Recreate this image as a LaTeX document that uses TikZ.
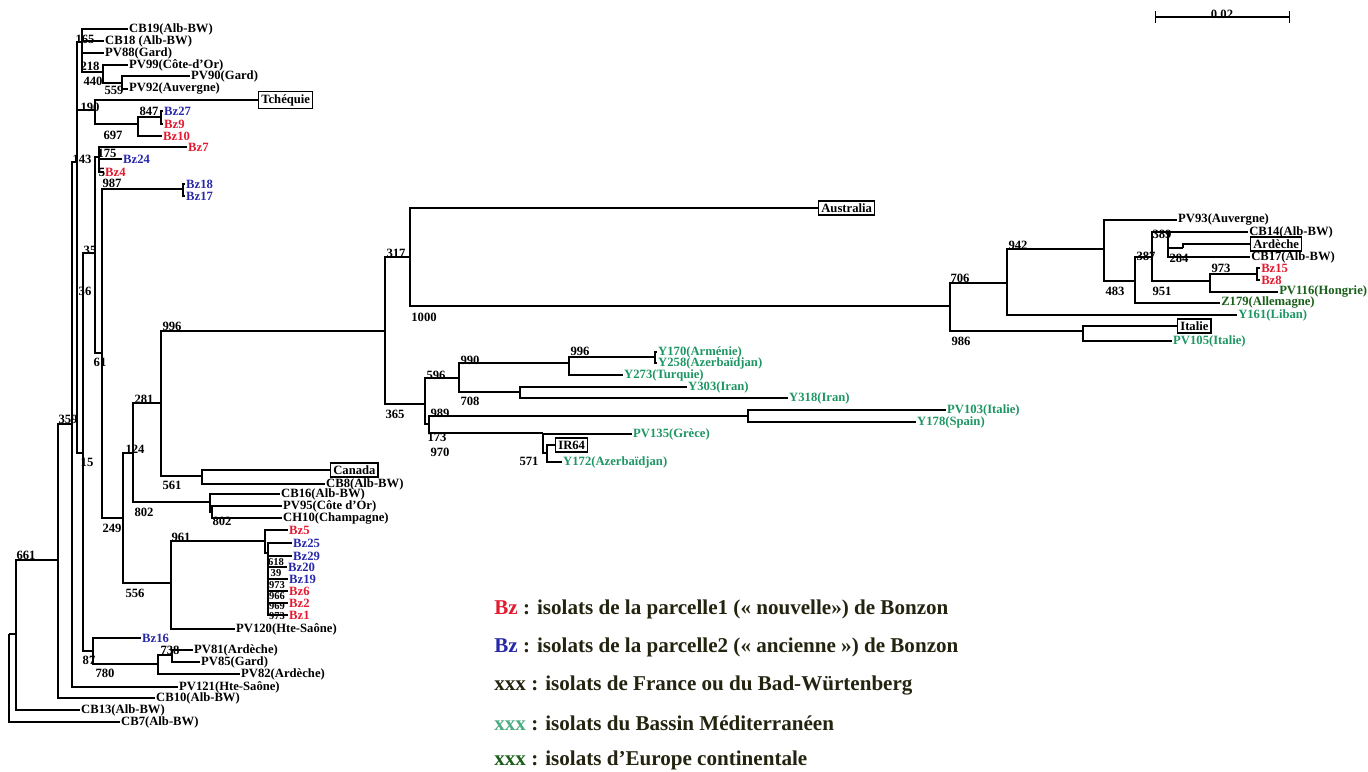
\documentclass[tikz,border=0pt]{standalone}
\usepackage{fontspec}
\setmainfont{Liberation Serif}

\definecolor{bzred}{RGB}{228,26,48}
\definecolor{bzblue}{RGB}{40,40,170}
\definecolor{medgreen}{RGB}{30,150,100}
\definecolor{eurgreen}{RGB}{25,95,25}
\definecolor{legtext}{RGB}{35,35,15}

\begin{document}
\begin{tikzpicture}[x=0.02cm,y=-0.02cm,
    branch/.style={line width=0.9pt},
    leaf/.style={anchor=west,inner sep=0.5pt,font=\bfseries\fontsize{7.2}{8}\selectfont},
    boxed/.style={leaf,draw,line width=0.8pt,inner sep=1.5pt},
    boot/.style={inner sep=0pt,font=\bfseries\fontsize{7.2}{8}\selectfont},
    comb/.style={boot,font=\bfseries\fontsize{6}{6}\selectfont},
    legend/.style={anchor=west,inner sep=0pt,text=legtext,font=\bfseries\fontsize{12}{14}\selectfont}]
  \useasboundingbox (0,0) rectangle (1368,771);
  \def\R#1{\textcolor{bzred}{#1}}
  \def\B#1{\textcolor{bzblue}{#1}}
  \def\M#1{\textcolor{medgreen}{#1}}
  \def\E#1{\textcolor{eurgreen}{#1}}

  % the leaves first, upper left part
  \node [leaf] (CB19) at (128,29) {CB19(Alb-BW)};
  \node [leaf] (CB18) at (104,41) {CB18 (Alb-BW)};
  \node [leaf] (PV88) at (104,53) {PV88(Gard)};
  \node [leaf] (PV99) at (128,65) {PV99(Côte-d'Or)};
  \node [leaf] (PV90) at (190,76) {PV90(Gard)};
  \node [leaf] (PV92) at (128,89) {PV92(Auvergne)};
  \node [boxed] (Tch) at (258,100) {Tchéquie};
  \node [leaf] (Bz27) at (163,111) {\B{Bz27}};
  \node [leaf] (Bz9) at (163,124) {\R{Bz9}};
  \node [leaf] (Bz10) at (162,136) {\R{Bz10}};
  \node [leaf] (Bz7) at (187,147) {\R{Bz7}};
  \node [leaf] (Bz24) at (122,159) {\B{Bz24}};
  \node [leaf] (Bz4) at (104,172) {\R{Bz4}};
  \node [leaf] (Bz18) at (185,184) {\B{Bz18}};
  \node [leaf] (Bz17) at (185,196) {\B{Bz17}};

  % middle and lower left part
  \node [boxed] (Can) at (330,470) {Canada};
  \node [leaf] (CB8) at (325,484) {CB8(Alb-BW)};
  \node [leaf] (CB16) at (280,494) {CB16(Alb-BW)};
  \node [leaf] (PV95) at (282,506) {PV95(Côte d'Or)};
  \node [leaf] (CH10) at (282,518) {CH10(Champagne)};
  \node [leaf] (Bz5) at (288,530) {\R{Bz5}};
  \node [leaf] (Bz25) at (292,543) {\B{Bz25}};
  \node [leaf] (Bz29) at (292,556) {\B{Bz29}};
  \node [leaf] (Bz20) at (287,567) {\B{Bz20}};
  \node [leaf] (Bz19) at (288,579) {\B{Bz19}};
  \node [leaf] (Bz6) at (288,591) {\R{Bz6}};
  \node [leaf] (Bz2) at (288,603) {\R{Bz2}};
  \node [leaf] (Bz1) at (288,615) {\R{Bz1}};
  \node [leaf] (PV120) at (235,629) {PV120(Hte-Saône)};
  \node [leaf] (Bz16) at (141,638) {\B{Bz16}};
  \node [leaf] (PV81) at (193,650) {PV81(Ardèche)};
  \node [leaf] (PV85) at (200,662) {PV85(Gard)};
  \node [leaf] (PV82) at (240,674) {PV82(Ardèche)};
  \node [leaf] (PV121) at (178,687) {PV121(Hte-Saône)};
  \node [leaf] (CB10) at (155,698) {CB10(Alb-BW)};
  \node [leaf] (CB13) at (80,710) {CB13(Alb-BW)};
  \node [leaf] (CB7) at (120,722) {CB7(Alb-BW)};

  % right part
  \node [boxed] (Aus) at (818,208) {Australia};
  \node [leaf] (PV93) at (1177,220) {PV93(Auvergne)};
  \node [leaf] (CB14) at (1248,232) {CB14(Alb-BW)};
  \node [boxed] (Ard) at (1250,244) {Ardèche};
  \node [leaf] (CB17) at (1250,257) {CB17(Alb-BW)};
  \node [leaf] (Bz15) at (1260,268) {\R{Bz15}};
  \node [leaf] (Bz8) at (1260,280) {\R{Bz8}};
  \node [leaf] (PV116) at (1278,292) {\E{PV116(Hongrie)}};
  \node [leaf] (Z179) at (1220,303) {\E{Z179(Allemagne)}};
  \node [leaf] (Y161) at (1237,315) {\M{Y161(Liban)}};
  \node [boxed] (Ita) at (1177,326) {Italie};
  \node [leaf] (PV105) at (1172,341) {\M{PV105(Italie)}};
  \node [leaf] (Y170) at (657,352) {\M{Y170(Arménie)}};
  \node [leaf] (Y258) at (657,363) {\M{Y258(Azerbaïdjan)}};
  \node [leaf] (Y273) at (623,375) {\M{Y273(Turquie)}};
  \node [leaf] (Y303) at (687,387) {\M{Y303(Iran)}};
  \node [leaf] (Y318) at (788,398) {\M{Y318(Iran)}};
  \node [leaf] (PV103) at (946,410) {\M{PV103(Italie)}};
  \node [leaf] (Y178) at (916,422) {\M{Y178(Spain)}};
  \node [leaf] (PV135) at (632,434) {\M{PV135(Grèce)}};
  \node [boxed] (IR64) at (555,445) {IR64};
  \node [leaf] (Y172) at (562,462) {\M{Y172(Azerbaïdjan)}};

  % inner nodes of the tree
  \coordinate (r) at (9,634);
  \coordinate (n661) at (16,634);
  \coordinate (n359) at (58,560);
  \coordinate (n143) at (72,424);
  \coordinate (nB) at (77,162);
  \coordinate (n218) at (82,42);
  \coordinate (n440) at (103,72);
  \coordinate (n559) at (122,83);
  \coordinate (n190) at (95,110);
  \coordinate (n847) at (138,124);
  \coordinate (nBz27) at (161,117);
  \coordinate (n83) at (83,453);
  \coordinate (n35) at (95,253);
  \coordinate (n175) at (99,157);
  \coordinate (n61) at (102,353);
  \coordinate (n987) at (183,189);
  \coordinate (n124) at (123,518);
  \coordinate (n281) at (133,453);
  \coordinate (n996) at (161,403);
  \coordinate (n561) at (202,476);
  \coordinate (n802) at (210,502);
  \coordinate (n802b) at (212,512);
  \coordinate (n556) at (171,583);
  \coordinate (n961) at (265,541);
  \coordinate (n618) at (268,553);
  \coordinate (n87) at (93,651);
  \coordinate (n780) at (158,664);
  \coordinate (n738) at (172,655);
  \coordinate (n385) at (385,331);
  \coordinate (n317) at (410,257);
  \coordinate (n706) at (950,306);
  \coordinate (n942) at (1007,283);
  \coordinate (n483) at (1104,249);
  \coordinate (n387) at (1135,281);
  \coordinate (n951) at (1152,257);
  \coordinate (n389) at (1168,232);
  \coordinate (n284) at (1183,248);
  \coordinate (n973) at (1210,281);
  \coordinate (nBz15) at (1257,274);
  \coordinate (n986) at (1083,331);
  \coordinate (n365) at (425,404);
  \coordinate (n596) at (459,378);
  \coordinate (n990) at (569,363);
  \coordinate (nY170) at (655,357);
  \coordinate (n708) at (520,392);
  \coordinate (n173) at (429,424);
  \coordinate (n989) at (748,416);
  \coordinate (n970) at (543,433);
  \coordinate (n571) at (547,453);

  % draw the branches, parent by parent
  \foreach \p/\c in {r/n661, r/CB7.west, n661/n359, n661/CB13.west,
      n359/n143, n359/CB10.west, n143/nB, n143/PV121.west,
      nB/n218, nB/n190, nB/n83,
      n218/CB19.west, n218/CB18.west, n218/PV88.west, n218/n440,
      n440/PV99.west, n440/n559, n559/PV90.west, n559/PV92.west,
      n190/Tch.west, n190/n847, n847/nBz27, n847/Bz10.west,
      nBz27/Bz27.west, nBz27/Bz9.west,
      n83/n35, n83/n87, n35/n175, n35/n61,
      n175/Bz7.west, n175/Bz24.west, n175/Bz4.west,
      n61/n987, n61/n124, n987/Bz18.west, n987/Bz17.west}
    \draw [branch] (\p) |- (\c);
  \foreach \p/\c in {n124/n281, n124/n556, n281/n996, n281/n802,
      n996/n385, n996/n561, n561/Can.west, n561/CB8.west,
      n802/CB16.west, n802/n802b, n802b/PV95.west, n802b/CH10.west,
      n556/n961, n556/PV120.west, n961/Bz5.west, n961/n618,
      n618/Bz25.west, n618/Bz29.west, n618/Bz20.west, n618/Bz19.west,
      n618/Bz6.west, n618/Bz2.west, n618/Bz1.west,
      n87/Bz16.west, n87/n780, n780/n738, n780/PV82.west,
      n738/PV81.west, n738/PV85.west}
    \draw [branch] (\p) |- (\c);
  \foreach \p/\c in {n385/n317, n385/n365, n317/Aus.west, n317/n706,
      n706/n942, n706/n986, n942/n483, n942/Y161.west,
      n483/PV93.west, n483/n387, n387/n951, n387/Z179.west,
      n951/n389, n951/n973, n389/CB14.west, n389/n284, n389/CB17.west,
      n284/Ard.west, n973/nBz15, n973/PV116.west,
      nBz15/Bz15.west, nBz15/Bz8.west, n986/Ita.west, n986/PV105.west,
      n365/n596, n365/n173, n596/n990, n596/n708,
      n990/nY170, n990/Y273.west, nY170/Y170.west, nY170/Y258.west,
      n708/Y303.west, n708/Y318.west, n173/n989, n173/n970,
      n989/PV103.west, n989/Y178.west, n970/PV135.west, n970/n571,
      n571/IR64.west, n571/Y172.west}
    \draw [branch] (\p) |- (\c);

  % bootstrap values
  \foreach \x/\y/\v [count=\i] in {85/39/165, 90/66/218, 93/81/440,
      114/90/559, 90/107/190, 149/111/847, 113/135/697, 107/153/175,
      82/159/143, 102/172/5, 112/183/987, 90/250/35, 85/291/36,
      100/362/61, 68/419/359, 87/462/15, 172/326/996, 144/399/281,
      135/449/124, 172/485/561, 144/512/802, 222/521/802, 112/528/249,
      181/537/961, 135/593/556, 26/555/661, 89/660/87,
      170/650/738, 105/673/780}
    \node [boot] (bl\i) at (\x,\y) {\v};
  \foreach \x/\y/\v [count=\i] in {276/562/618, 276/573/39,
      277/585/973, 277/596/966, 277/606/969, 277/616/973}
    \node [comb] (bc\i) at (\x,\y) {\v};
  \foreach \x/\y/\v [count=\i] in {396/253/317, 424/317/1000,
      395/414/365, 436/375/596, 470/360/990, 580/351/996, 470/401/708,
      440/413/989, 437/437/173, 440/452/970, 529/461/571, 960/278/706,
      961/341/986, 1018/245/942, 1162/234/389, 1146/256/387,
      1179/258/284, 1221/268/973, 1115/291/483, 1162/291/951}
    \node [boot] (br\i) at (\x,\y) {\v};

  % scale bar
  \coordinate (s0) at (1155,17);
  \coordinate (s1) at (1290,17);
  \draw [line width=0.8pt,|-|] (s0) -- (s1);
  \node [boot] (scl) at (1222,14) {0.02};

  % legend
  \node [legend] (leg1) at (494,609)
    {\R{Bz} : isolats de la parcelle1 (« nouvelle») de Bonzon};
  \node [legend] (leg2) at (494,647)
    {\B{Bz} : isolats de la parcelle2 (« ancienne ») de Bonzon};
  \node [legend] (leg3) at (494,685)
    {xxx : isolats de France ou du Bad-Würtenberg};
  \node [legend] (leg4) at (494,723)
    {\textcolor{medgreen!80!white}{xxx} : isolats du Bassin Méditerranéen};
  \node [legend] (leg5) at (494,760)
    {\E{xxx} : isolats d'Europe continentale};
\end{tikzpicture}
\end{document}
